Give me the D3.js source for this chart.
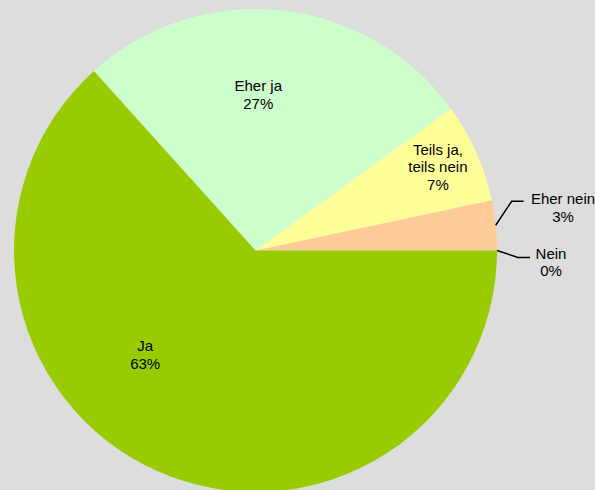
<!DOCTYPE html>
<html>
<head>
<meta charset="utf-8">
<script src="https://cdn.jsdelivr.net/npm/d3@7"></script>
<style>
  body { margin: 0; background: #dddddd; }
  svg { display: block; }
  text { font-family: "Liberation Sans", Arial, sans-serif; font-size: 15px; fill: #000; }
</style>
</head>
<body>
<script>
// answers, counterclockwise from 3 o'clock
var categories = ["Nein", "Eher nein", "Teils ja, teils nein", "Eher ja", "Ja"];
var counts = [0, 1, 2, 8, 19];
var percentLabels = ["0%", "3%", "7%", "27%", "63%"];
var labelLines = [["Nein"], ["Eher nein"], ["Teils ja,", "teils nein"], ["Eher ja"], ["Ja"]];
var colors = ["#ff9900", "#ffcc99", "#ffff99", "#ccffcc", "#99cc00"];

var width = 595, height = 490;
var cx = 255.5, cy = 250.5, r = 241.5;

var svg = d3.select("body").append("svg")
  .attr("width", width).attr("height", height);

var data = categories.map(function(c, i) {
  return {name: c, value: counts[i], pct: percentLabels[i], lines: labelLines[i], color: colors[i]};
});

var pie = d3.pie()
  .sort(null)
  .value(function(d) { return d.value; })
  .startAngle(Math.PI / 2)
  .endAngle(Math.PI / 2 - 2 * Math.PI);

var arcs = pie(data);
var arc = d3.arc().innerRadius(0).outerRadius(r);

var g = svg.append("g").attr("transform", "translate(" + cx + "," + cy + ")");

g.selectAll("path.slice")
  .data(arcs).enter().append("path")
  .attr("class", "slice")
  .attr("d", arc)
  .attr("fill", function(d) { return d.data.color; });

// label placement: inside labels at polar offset, outside ones with leader lines
// [angle in degrees (screen, 0 = east, ccw positive), radius factor]
var inside = {
  "Eher ja": [89, 0.645],
  "Teils ja, teils nein": [24.5, 0.83],
  "Ja": [223.5, 0.63]
};
var outside = {
  "Nein": {elbow: [21, 7], end: 33, text: [295.5, 4]},
  "Eher nein": {elbow: [16, -24], end: 28, text: [307.5, -25.5]}
};

arcs.forEach(function(d) {
  var name = d.data.name;
  var lines = d.data.lines.concat([d.data.pct]);
  var x, y;
  if (inside[name]) {
    var a = inside[name][0] * Math.PI / 180;
    var rr = inside[name][1] * r;
    x = Math.cos(a) * rr;
    y = -Math.sin(a) * rr;
  } else {
    var o = outside[name];
    var mid = (d.startAngle + d.endAngle) / 2;
    var px = Math.sin(mid) * r, py = -Math.cos(mid) * r;
    var ex = px + o.elbow[0], ey = py + o.elbow[1];
    g.append("polyline")
      .attr("points", [[px, py], [ex, ey], [px + o.end, ey]].map(function(p) { return p.join(","); }).join(" "))
      .attr("fill", "none").attr("stroke", "#000").attr("stroke-width", 1.5);
    x = o.text[0];
    y = py + o.text[1] + 8;
  }
  var lh = 17.5;
  var t = g.append("text")
    .attr("text-anchor", "middle")
    .attr("x", x)
    .attr("y", y - (lines.length - 1) * lh / 2 + 5);
  lines.forEach(function(s, i) {
    t.append("tspan").attr("x", x).attr("dy", i === 0 ? 0 : lh).text(s);
  });
});
</script>
</body>
</html>
